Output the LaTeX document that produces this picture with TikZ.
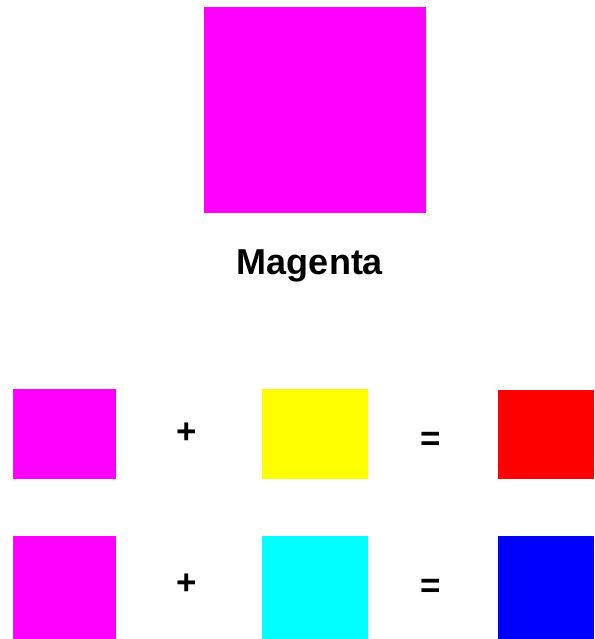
\documentclass[tikz,border=0pt]{standalone}
\usepackage{fontspec}
\setmainfont{Liberation Sans}
\usepackage{tikz}
\definecolor{cmag}{RGB}{255,0,255}
\definecolor{cyel}{RGB}{255,255,0}
\definecolor{cred}{RGB}{255,0,0}
\definecolor{ccya}{RGB}{0,255,255}
\definecolor{cblu}{RGB}{0,0,255}
\begin{document}
\begin{tikzpicture}[x=1pt,y=-1pt,
    sign/.style={inner sep=0pt,font=\fontsize{35}{40}\selectfont\bfseries}]
    
    % Bingkai gambar
    \useasboundingbox (0,0) rectangle (594,639);
    
    % Kotak besar magenta dengan labelnya
    \fill[cmag] (204,7) rectangle (426,213);
    \node[sign,anchor=base,font=\fontsize{36}{40}\selectfont\bfseries] (label) at (310,274) {Magenta};
    
    % Baris pertama: magenta + kuning = merah
    \fill[cmag] (13,389) rectangle (116,479);
    \node[sign] (plusA) at (187,433) {+};
    \fill[cyel] (262,389) rectangle (368,479);
    \node[sign] (eqA) at (431,441) {=};
    \fill[cred] (498,390) rectangle (594,479);
    
    % Baris kedua: magenta + sian = biru
    \fill[cmag] (13,536) rectangle (116,639);
    \node[sign] (plusB) at (187,584) {+};
    \fill[ccya] (262,536) rectangle (368,639);
    \node[sign] (eqB) at (431,588) {=};
    \fill[cblu] (498,536) rectangle (594,639);
    
\end{tikzpicture}
\end{document}
